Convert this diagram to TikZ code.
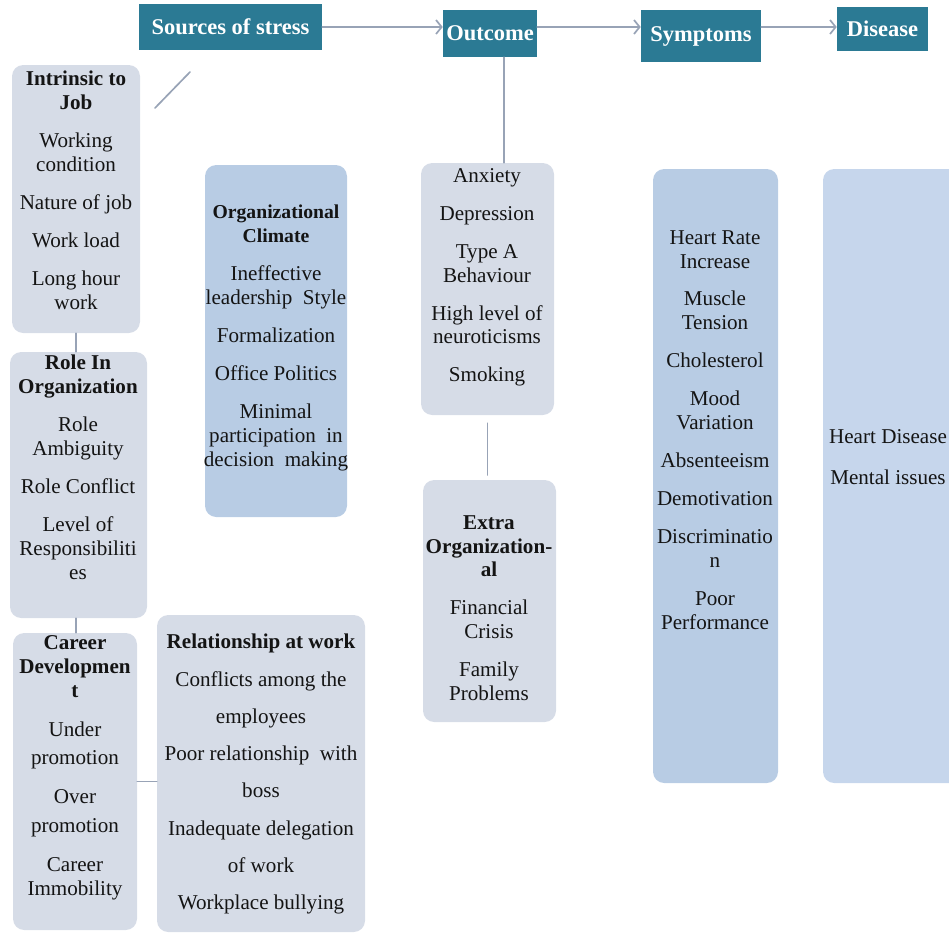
\documentclass[tikz,border=0pt]{standalone}
\usepackage{fontspec}
\setmainfont{Liberation Serif}
\usetikzlibrary{fit,calc,arrows.meta}

\definecolor{headteal}{HTML}{2B7A94}
\definecolor{softgray}{HTML}{D6DCE7}
\definecolor{softblue}{HTML}{B8CCE4}
\definecolor{paleblue}{HTML}{C6D6EC}
\definecolor{linkgray}{HTML}{98A3B6}

\begin{document}
\begin{tikzpicture}[x=0.025cm,y=-0.025cm,line cap=round,line join=round,
  head/.style={fill=headteal, text=white, inner sep=0pt, font=\fontsize{16}{18}\selectfont\bfseries},
  card/.style={fill=softgray, rounded corners=8pt, inner sep=0pt},
  words/.style={align=center, anchor=north, inner sep=0pt, text=black!92, font=\fontsize{15}{17}\selectfont},
  link/.style={draw=linkgray, line width=1.2pt},
  flow/.style={link, -{Straight Barb[length=4pt,width=10pt]}}]
  \useasboundingbox (0,0) rectangle (949,935);

  % Header row
  \node[head, minimum width=4.575cm, minimum height=1.15cm] (src) at (230.5,27) {Sources of stress};
  \node[head, minimum width=2.35cm, minimum height=1.175cm] (outc) at (490,33.5) {Outcome};
  \node[head, minimum width=3cm, minimum height=1.3cm] (symp) at (701,36) {Symptoms};
  \node[head, minimum width=2.275cm, minimum height=1.1cm] (dis) at (882.5,29) {Disease};

  % Sources of stress (left columns)
  \node[card, fit={(12,65) (140,333)}] (intr) {};
  \node[card, fit={(10,352) (147,618)}] (role) {};
  \node[card, fit={(13,633) (137,930)}] (career) {};
  \node[card, fit={(157,615) (365,932)}] (rel) {};
  \node[card, fill=softblue, fit={(205,165) (347,517)}] (orgc) {};

  % Outcome column
  \node[card, fit={(421,163) (554,415)}] (anx) {};
  \node[card, fit={(423,480) (556,722)}] (extra) {};

  % Symptoms and disease
  \node[card, fill=softblue, fit={(653,169) (778,783)}] (body) {};
  \node[card, fill=paleblue, fit={(823,169) (965,783)}] (ill) {};

  % Texts inside the cards
  \node[words] (intrtext) at (76,71) {\textbf{Intrinsic to}\\ \textbf{Job}\\[10pt]
    Working\\ condition\\[10pt] Nature of job\\[10pt] Work load\\[10pt] Long hour\\ work};
  \node[words] (roletext) at (78,355) {\textbf{Role In}\\ \textbf{Organization}\\[10pt]
    Role\\ Ambiguity\\[10pt] Role Conflict\\[10pt] Level of\\ Responsibiliti\\ es};
  \node[words] (careertext) at (75,635) {\textbf{Career}\\ \textbf{Developmen}\\ \textbf{t}\\[11pt]
    Under\\[3pt] promotion\\[11pt] Over\\[3pt] promotion\\[11pt] Career\\ Immobility};
  \node[words] (reltext) at (261,634) {\textbf{Relationship at work}\\[9.5pt]
    Conflicts among the\\[9.5pt] employees\\[9.5pt] Poor relationship\ \ with\\[9.5pt] boss\\[9.5pt]
    Inadequate delegation\\[9.5pt] of work\\[9.5pt] Workplace bullying};
  \node[words] (orgctext) at (276,205) {{\fontsize{14}{17}\selectfont\bfseries Organizational}\\
    {\fontsize{14}{17}\selectfont\bfseries Climate}\\[10pt]
    Ineffective\\ leadership\ \ Style\\[10pt] Formalization\\[10pt] Office Politics\\[10pt]
    Minimal\\ participation\ \ in\\ decision\ \ making};
  \node[words] (anxtext) at (487,168) {Anxiety\\[10pt] Depression\\[10pt] Type A\\ Behaviour\\[10pt]
    High level of\\ neuroticisms\\[10pt] Smoking};
  \node[words] (extratext) at (489,515) {\textbf{Extra}\\ \textbf{Organization-}\\ \textbf{al}\\[10pt]
    Financial\\ Crisis\\[10pt] Family\\ Problems};
  \node[words] (bodytext) at (715,230) {Heart Rate\\ Increase\\[10pt] Muscle\\ Tension\\[10pt]
    Cholesterol\\[10pt] Mood\\ Variation\\[10pt] Absenteeism\\[10pt] Demotivation\\[10pt]
    Discriminatio\\ n\\[10pt] Poor\\ Performance};
  \node[words] (illtext) at (888,429) {Heart Disease\\[12pt] Mental issues};

  % Arrows along the top
  \draw[flow] (src.east) -- (src.east -| outc.west);
  \draw[flow] (outc.east |- src.east) -- (src.east -| symp.west);
  \draw[flow] (symp.east |- src.east) -- (src.east -| dis.west);

  % Plain links
  \coordinate (slantA) at (155,108);
  \coordinate (slantB) at (190,72);
  \draw[link] (slantA) -- (slantB);
  \coordinate (ostem) at ($(outc.south)+(14,0)$);
  \draw[link] (ostem) -- (ostem |- anx.north);
  \draw[link] (intr.south) -- (intr.south |- role.north);
  \draw[link] (intr.south |- role.south) -- (intr.south |- career.north);
  \draw[link] (career.east) -- (career.east -| rel.west);
  \draw[link, shorten <=0.2cm, shorten >=0.12cm] (anx.south) -- (anx.south |- extra.north);
\end{tikzpicture}
\end{document}
